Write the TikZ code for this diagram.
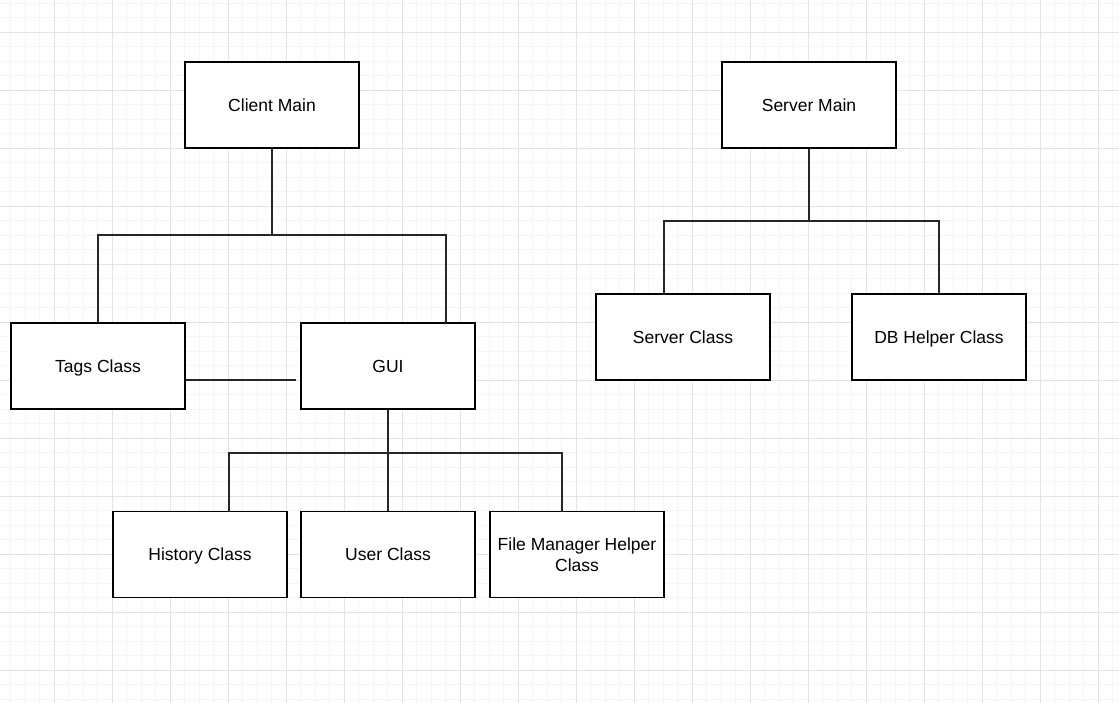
\documentclass[tikz,border=0pt]{standalone}
\usepackage{fontspec}
\setmainfont{Liberation Sans}

\tikzset{
  ClassBox/.style = {draw, line width=1.2pt, fill=white, minimum width=174pt,
                     minimum height=86pt, inner sep=0pt, align=center,
                     text height=14pt, text depth=1.4pt,
                     font=\fontsize{17.5}{21}\selectfont},
  Link/.style     = {line width=1.2pt, draw=black!85},
  MinorGrid/.style = {draw=black!4, line width=0.8pt, step=14.5pt},
  MajorGrid/.style = {draw=black!11, line width=0.8pt, step=58pt}
}

\begin{document}
\begin{tikzpicture}[x=1pt, y=-1pt]
    \useasboundingbox (0,0) rectangle (1119,703);
    \fill[white] (0,0) rectangle (1119,703);
    % background grid
    \begin{scope}[shift={(10.5,3)}]
      \draw[MinorGrid] (-10.5,-3) grid (1108.5,700);
    \end{scope}
    \begin{scope}[shift={(54,32)}]
      \draw[MajorGrid] (-54,-32) grid (1065,671);
    \end{scope}

    % client side
    \node[ClassBox] (cmain) at (272,105) {Client Main};
    \node[ClassBox] (tags) at (98,366) {Tags Class};
    \node[ClassBox] (gui) at (388,366) {GUI};
    \node[ClassBox] (history) at (200,554.5) {History Class};
    \node[ClassBox] (user) at (388,554.5) {User Class};
    \node[ClassBox, text height=35pt] (filemgr) at (577,554.5) {File Manager Helper\\Class};

    % server side
    \node[ClassBox] (smain) at (809,105) {Server Main};
    \node[ClassBox] (server) at (683,337) {Server Class};
    \node[ClassBox] (dbhelper) at (939,337) {DB Helper Class};

    \coordinate (cbus) at (272,235);
    \coordinate (guitop) at (446,323);
    \coordinate (guibus) at (388,453);
    \coordinate (histtop) at (229,511.5);
    \coordinate (filetop) at (562,511.5);
    \coordinate (sbus) at (809,221);
    \coordinate (servtop) at (664,294);

    \draw[Link] (cmain) -- (cbus);
    \draw[Link] (tags.north) |- (cbus) -| (guitop);
    \draw[Link] ([yshift=-14pt]tags.east) -- ([yshift=-14pt,xshift=-4pt]gui.west);

    \draw[Link] (gui) -- (user);
    \draw[Link] (histtop) |- (guibus) -| (filetop);

    \draw[Link] (smain) -- (sbus);
    \draw[Link] (servtop) |- (sbus) -| (dbhelper.north);
\end{tikzpicture}
\end{document}
